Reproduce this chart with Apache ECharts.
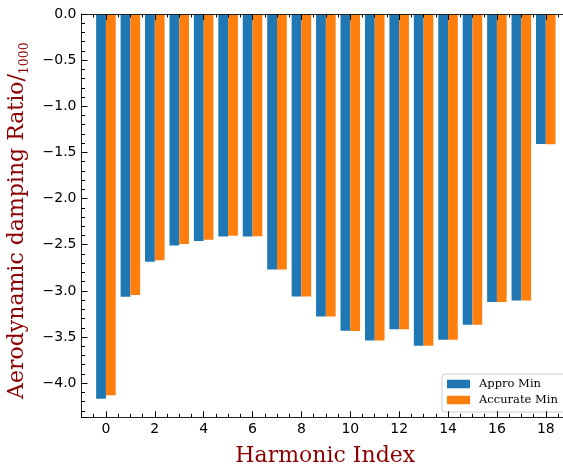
<!DOCTYPE html>
<html>
<head>
<meta charset="utf-8">
<script src="https://cdn.jsdelivr.net/npm/echarts@6/dist/echarts.min.js"></script>
<style>
html,body{margin:0;padding:0;background:#fff}
#chart{width:563px;height:464px}
</style>
</head>
<body>
<div id="chart"></div>
<script>
// harmonic index on x, min damping ratio (/1000) on y
var harmonics = [0,1,2,3,4,5,6,7,8,9,10,11,12,13,14,15,16,17,18];
var approMin = [-4.17,-3.064,-2.685,-2.508,-2.46,-2.41,-2.41,-2.768,-3.06,-3.277,-3.433,-3.537,-3.415,-3.595,-3.53,-3.368,-3.122,-3.104,-1.409];
var accurateMin = [-4.13,-3.046,-2.667,-2.493,-2.446,-2.403,-2.407,-2.768,-3.06,-3.277,-3.436,-3.537,-3.415,-3.595,-3.53,-3.368,-3.12,-3.104,-1.41];
var seriesNames = ['Appro Min','Accurate Min'];
var colors = ['#1f77b4','#ff7f0e'];

var myChart = echarts.init(document.getElementById('chart'));

function pairs(vals){
    var out = [];
    for(var i = 0; i < harmonics.length; i++){
        out.push([harmonics[i], vals[i]]);
    }
    return out;
}

var tickFont = {fontFamily:'DejaVu Sans', fontSize:14, color:'#000'};
var spine = {show:true, onZero:false, lineStyle:{color:'#222', width:1}};

function xAx(pos, labels){
    return {
        type:'value', position:pos, min:-1, max:18.95, splitNumber:10, z:5,
        axisLine:spine,
        axisTick:{show:true, inside:true, length:6, lineStyle:{color:'#000'}},
        minorTick:{show:true, splitNumber:4, length:3.5, lineStyle:{color:'#000'}},
        splitLine:{show:false},
        axisLabel:{show:labels, margin:5, showMinLabel:false, showMaxLabel:false,
            fontFamily:tickFont.fontFamily, fontSize:tickFont.fontSize, color:tickFont.color}
    };
}
function yAx(pos, labels){
    return {
        type:'value', position:pos, min:-4.37, max:0, splitNumber:8, z:5,
        axisLine:spine,
        axisTick:{show:true, inside:true, length:6, lineStyle:{color:'#000'}},
        minorTick:{show:true, splitNumber:5, length:3.5, lineStyle:{color:'#000'}},
        splitLine:{show:false},
        axisLabel:{show:labels, margin:5, showMinLabel:false,
            fontFamily:tickFont.fontFamily, fontSize:tickFont.fontSize, color:tickFont.color,
            formatter:function(v){ return v.toFixed(1).replace('-', '\u2212'); }}
    };
}

var xBottom = xAx('bottom', true);
xBottom.name = 'Harmonic Index';
xBottom.nameLocation = 'middle';
xBottom.nameGap = 28;
xBottom.nameTextStyle = {fontFamily:'DejaVu Serif', fontSize:22, color:'#8b0000'};

var yLeft = yAx('left', true);
yLeft.name = '{a|Aerodynamic damping Ratio/}{b|1000}';
yLeft.nameLocation = 'middle';
yLeft.nameGap = 44;
yLeft.nameTextStyle = {
    rich:{
        a:{fontFamily:'DejaVu Serif', fontSize:22, color:'#8b0000'},
        b:{fontFamily:'DejaVu Serif', fontSize:12.5, color:'#8b0000', verticalAlign:'bottom', padding:[0,10,-3,0]}
    }
};

var option = {
    animation:false,
    backgroundColor:'#fff',
    grid:{left:81.5, right:-6, top:14, bottom:46.7, containLabel:false, outerBoundsMode:'none'},
    legend:{
        data:seriesNames, orient:'vertical', left:442, top:374,
        icon:'rect', itemWidth:23, itemHeight:8.5, itemGap:4,
        padding:[4,12,6,5], borderColor:'#ccc', borderWidth:1, borderRadius:3,
        backgroundColor:'rgba(255,255,255,0.85)',
        textStyle:{fontFamily:'DejaVu Serif', fontSize:11.5, color:'#000', padding:[0,0,0,4]}
    },
    xAxis:[xBottom, xAx('top', false)],
    yAxis:[yLeft, yAx('right', false)],
    series:[
        {name:seriesNames[0], type:'bar', xAxisIndex:0, yAxisIndex:0, data:pairs(approMin),
         barWidth:9.78, barGap:'0%', itemStyle:{color:colors[0]}},
        {name:seriesNames[1], type:'bar', xAxisIndex:0, yAxisIndex:0, data:pairs(accurateMin),
         barWidth:9.78, barGap:'0%', itemStyle:{color:colors[1]}}
    ]
};

myChart.setOption(option);
</script>
</body>
</html>
